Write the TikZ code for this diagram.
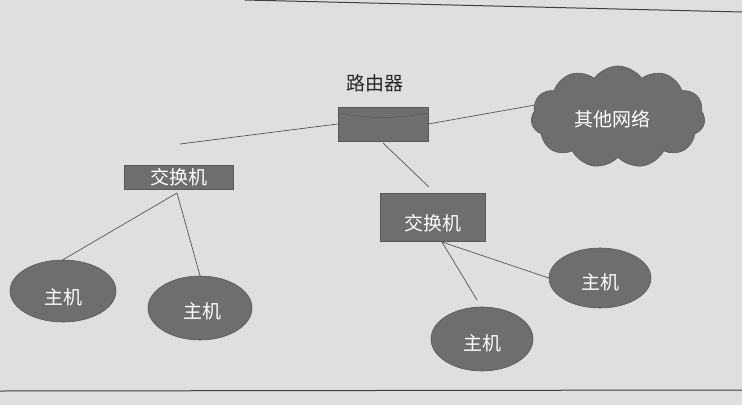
\documentclass[tikz,border=0pt]{standalone}
\usepackage{fontspec}
\setmainfont{Noto Sans CJK SC}
\usetikzlibrary{shapes.symbols,shapes.geometric}
\definecolor{paper}{RGB}{224,223,221}
\definecolor{shapegray}{RGB}{112,110,108}
\definecolor{linegray}{RGB}{85,85,85}
\tikzset{
  dev/.style={fill=shapegray, draw=shapegray!80!black, line width=0.6pt, text=white, inner sep=0pt},
  hostnode/.style={dev, ellipse, minimum width=102pt, minimum height=63pt},
  switchnode/.style={dev, rectangle},
  lbl/.style={text=white, font=\fontsize{19}{19}\selectfont, inner sep=0pt},
  link/.style={draw=linegray, line width=0.7pt},
  frameline/.style={draw=black!75, line width=1pt}
}
\begin{document}
\begin{tikzpicture}[x=1pt,y=-1pt]
\fill[paper] (0,0) rectangle (742,405);
\useasboundingbox (0,0) rectangle (742,405);
% frame lines of the page
\coordinate (ft1) at (245,0);
\coordinate (ft2) at (742,12);
\coordinate (fb1) at (0,391);
\coordinate (fb2) at (742,390);
\draw[frameline] (ft1) -- (ft2);
\draw[frameline] (fb1) -- (fb2);

% router
\node[lbl, text=black!85] (rlabel) at (375,83) {路由器};
\node[dev, rectangle, minimum width=90pt, minimum height=34pt] (router) at (383,124) {};
\draw[draw=shapegray!75!black, line width=0.5pt] (339,113) .. controls (370,119) and (396,119) .. (427,113);

% cloud
\node[dev, cloud, cloud puffs=11, cloud puff arc=110, aspect=1.7, minimum width=174pt, minimum height=102pt] (cloud) at (618,117) {};
\node[lbl] (cloudt) at (612,119) {其他网络};

% switches
\node[switchnode, minimum width=109pt, minimum height=24pt] (sw1) at (179,177) {};
\node[lbl] (sw1t) at (179,177) {交换机};
\node[switchnode, minimum width=105pt, minimum height=48pt] (sw2box) at (433,217) {};
\node[lbl] (sw2) at (433,223) {交换机};

% hosts
\node[hostnode, minimum width=106pt, minimum height=62pt] (h1) at (63,291) {};
\node[lbl] (h1t) at (63,297) {主机};
\node[hostnode, minimum width=104pt, minimum height=64pt] (h2) at (200,308) {};
\node[lbl] (h2t) at (202,311) {主机};
\node[hostnode, minimum width=102pt, minimum height=64pt] (h3) at (482,339) {};
\node[lbl] (h3t) at (482,343) {主机};
\node[hostnode, minimum width=102pt, minimum height=60pt] (h4) at (600,278) {};
\node[lbl] (h4t) at (600,282) {主机};

% free ends of connectors
\coordinate (rl) at (180,144);
\coordinate (rs) at (429,187);
\coordinate (rtop) at (383,143);
\coordinate (s1a) at (177,193);
\coordinate (s2a) at (442,242);
\coordinate (h3e) at (477,300);

% connectors
\draw[link] (router.west) -- (rl);
\draw[link] (router.east) -- (cloud.172);
\draw[link] (rtop) -- (rs);
\draw[link] (s1a) -- (h1.north);
\draw[link] (s1a) -- (h2.north);
\draw[link] (s2a) -- (h3e);
\draw[link] (s2a) -- (h4.west);
\end{tikzpicture}
\end{document}
